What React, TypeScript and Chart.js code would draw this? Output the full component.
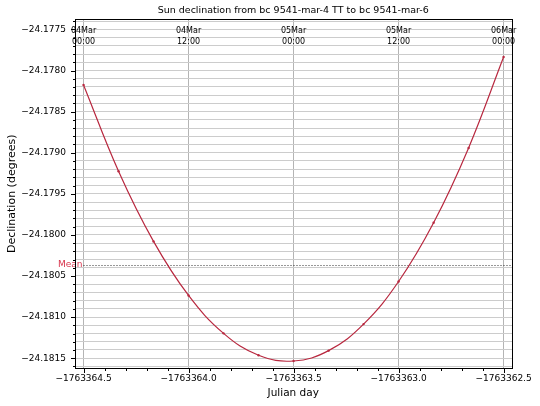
import React, { useEffect, useRef } from 'react';
import { Chart, registerables } from 'chart.js';

Chart.register(...registerables);

// ---- data ----
const julianDays = [
  -1763364.5, -1763364.3333, -1763364.1667, -1763364.0, -1763363.8333, -1763363.6667,
  -1763363.5, -1763363.3333, -1763363.1667, -1763363.0, -1763362.8333, -1763362.6667,
  -1763362.5,
];
const declination = [
  -24.178176, -24.179226, -24.180079, -24.180737, -24.181198, -24.181465,
  -24.181534, -24.181408, -24.181085, -24.180567, -24.179853, -24.178942,
  -24.177836,
];
const meanDeclination = -24.180361;
const meanLabel = 'Mean';

const xMajorTicks = [-1763364.5, -1763364.0, -1763363.5, -1763363.0, -1763362.5];
const topTickLabels = [
  ['04Mar', '00:00'],
  ['04Mar', '12:00'],
  ['05Mar', '00:00'],
  ['05Mar', '12:00'],
  ['06Mar', '00:00'],
];
const xRange = [-1763364.543, -1763362.46];
const yRange = [-24.181623, -24.177377];

const titleText = 'Sun declination from bc 9541-mar-4 TT to bc 9541-mar-6';
const xTitle = 'Julian day';
const yTitle = 'Declination (degrees)';

const FONT = '"DejaVu Sans", "Liberation Sans", sans-serif';
const LINE_COLOR = '#b8283f';

const isMajorY = (v: number) => Math.round(v * 1e4) % 5 === 0;
const isMajorX = (v: number) => Math.round(v * 10) % 5 === 0;
const minus = (s: string) => '\u2212' + s;

const decorPlugin = {
  id: 'decor',
  beforeDatasetsDraw(chart: any) {
    const { ctx, chartArea, scales } = chart;
    const { left, right } = chartArea;
    const my = Math.round(scales.y.getPixelForValue(meanDeclination)) + 0.5;
    ctx.save();
    ctx.strokeStyle = '#333';
    ctx.lineWidth = 1;
    ctx.setLineDash([1, 2]);
    ctx.beginPath();
    ctx.moveTo(left + 9, my);
    ctx.lineTo(right, my);
    ctx.stroke();
    ctx.restore();
  },
  afterDraw(chart: any) {
    const { ctx, chartArea, scales } = chart;
    const { left, right, top, bottom } = chartArea;
    const x = scales.x;
    const y = scales.y;
    ctx.save();

    // Mean label
    const my = y.getPixelForValue(meanDeclination);
    ctx.fillStyle = '#d8344c';
    ctx.font = `9px ${FONT}`;
    ctx.textAlign = 'right';
    ctx.textBaseline = 'middle';
    ctx.fillText(meanLabel, left + 8, my);

    // top date labels
    ctx.fillStyle = '#000';
    ctx.font = `8px ${FONT}`;
    ctx.textAlign = 'center';
    xMajorTicks.forEach((v, i) => {
      const px = x.getPixelForValue(v);
      ctx.fillText(topTickLabels[i][0], px, top + 11.5);
      ctx.fillText(topTickLabels[i][1], px, top + 22.5);
    });

    // frame
    ctx.strokeStyle = '#000';
    ctx.lineWidth = 1;
    ctx.strokeRect(Math.round(left) + 0.5, Math.round(top) + 0.5, Math.round(right) - Math.round(left), Math.round(bottom) - Math.round(top));

    // tick marks
    ctx.beginPath();
    y.ticks.forEach((t: any) => {
      const py = Math.round(y.getPixelForValue(t.value)) + 0.5;
      const len = isMajorY(t.value) ? 4 : 2;
      ctx.moveTo(Math.round(left) - len, py);
      ctx.lineTo(Math.round(left), py);
    });
    x.ticks.forEach((t: any) => {
      const px = Math.round(x.getPixelForValue(t.value)) + 0.5;
      const len = isMajorX(t.value) ? 4 : 2;
      ctx.moveTo(px, Math.round(bottom) + 1);
      ctx.lineTo(px, Math.round(bottom) + 1 + len);
    });
    ctx.stroke();
    ctx.restore();
  },
};

export default function App() {
  const canvasRef = useRef<HTMLCanvasElement | null>(null);

  useEffect(() => {
    const canvas = canvasRef.current;
    if (!canvas) return;
    const chart = new Chart(canvas, {
      type: 'line',
      data: {
        datasets: [
          {
            data: julianDays.map((jd, i) => ({ x: jd, y: declination[i] })),
            borderColor: LINE_COLOR,
            backgroundColor: LINE_COLOR,
            borderWidth: 1.2,
            pointRadius: 1.2,
            pointBorderWidth: 0,
            pointHoverRadius: 1.2,
            tension: 0.4,
            fill: false,
          },
        ],
      },
      options: {
        responsive: false,
        animation: false,
        events: [],
        layout: { padding: { left: 0, right: 28, top: 0, bottom: 0 } },
        plugins: {
          legend: { display: false },
          tooltip: { enabled: false },
          title: {
            display: true,
            text: titleText,
            fullSize: false,
            color: '#000',
            font: { family: FONT, size: 9.5, weight: 'normal' },
            padding: { top: 5.3, bottom: 2.6 },
          },
        },
        scales: {
          x: {
            type: 'linear',
            min: xRange[0],
            max: xRange[1],
            afterBuildTicks: (scale: any) => {
              const lo = Math.ceil(xRange[0] * 10 - 1e-6);
              const hi = Math.floor(xRange[1] * 10 + 1e-6);
              const ticks = [];
              for (let n = lo; n <= hi; n++) ticks.push({ value: n / 10 });
              scale.ticks = ticks;
            },
            afterFit: (scale: any) => {
              scale.height = 406 - 368.3;
              scale.paddingLeft = 0;
              scale.paddingRight = 0;
            },
            ticks: {
              autoSkip: false,
              maxRotation: 0,
              minRotation: 0,
              padding: 5,
              color: '#000',
              font: { family: FONT, size: 9 },
              callback: (v: any) => (isMajorX(Number(v)) ? minus(Math.abs(Number(v)).toFixed(1)) : ''),
            },
            grid: {
              drawTicks: false,
              color: (ctx: any) => (ctx.tick && isMajorX(ctx.tick.value) ? '#b4b4b4' : 'rgba(0,0,0,0)'),
              lineWidth: 1,
            },
            border: { display: false },
            title: {
              display: true,
              text: xTitle,
              color: '#000',
              font: { family: FONT, size: 10.5 },
              padding: { top: 0, bottom: 6.7 },
            },
          },
          y: {
            type: 'linear',
            min: yRange[0],
            max: yRange[1],
            afterBuildTicks: (scale: any) => {
              const lo = Math.ceil(yRange[0] * 1e4 - 1e-6);
              const hi = Math.floor(yRange[1] * 1e4 + 1e-6);
              const ticks = [];
              for (let n = lo; n <= hi; n++) ticks.push({ value: n / 1e4 });
              scale.ticks = ticks;
            },
            afterFit: (scale: any) => {
              scale.width = 74.5;
              scale.paddingTop = 0;
              scale.paddingBottom = 0;
            },
            ticks: {
              autoSkip: false,
              padding: 8.5,
              color: '#000',
              font: { family: FONT, size: 9 },
              callback: (v: any) => (isMajorY(Number(v)) ? minus(Math.abs(Number(v)).toFixed(4)) : ''),
            },
            grid: {
              drawTicks: false,
              color: '#cccccc',
              lineWidth: 1,
            },
            border: { display: false },
            title: {
              display: true,
              text: yTitle,
              color: '#000',
              font: { family: FONT, size: 11 },
              padding: { top: 5.4, bottom: 0 },
            },
          },
        },
      },
      plugins: [decorPlugin],
    } as any);
    return () => chart.destroy();
  }, []);

  return (
    <div style={{ position: 'absolute', left: 0, top: 0, width: 540, height: 406, background: '#fff' }}>
      <canvas ref={canvasRef} width={540} height={406} style={{ display: 'block', width: 540, height: 406 }} />
    </div>
  );
}
